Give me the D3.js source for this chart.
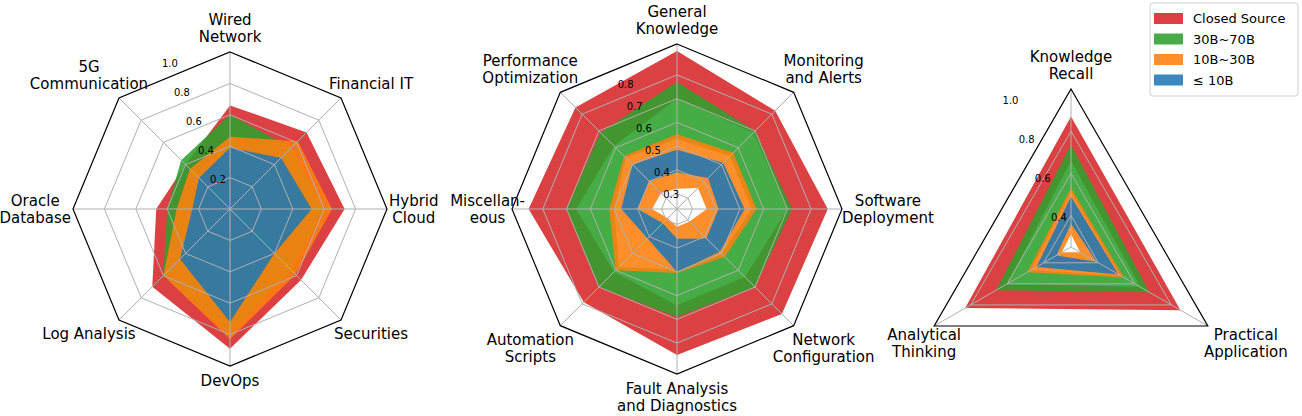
<!DOCTYPE html>
<html><head><meta charset="utf-8">
<script src="https://cdn.jsdelivr.net/npm/d3@7"></script>
<style>body{margin:0;background:#fff}text{font-family:"DejaVu Sans",sans-serif}</style>
</head><body><svg id="c" width="1302" height="416"></svg>
<script>
const groups = ["Closed Source","30B~70B","10B~30B","≤ 10B"];
const colors = ["#d62728","#2ca02c","#ff7f0e","#1f77b4"];

const leftCats = ["Wired\nNetwork","Financial IT","Hybrid\nCloud","Securities","DevOps","Log Analysis","Oracle\nDatabase","5G\nCommunication"];
const leftClosed = [0.66,0.69,0.73,0.64,0.89,0.70,0.47,0.40];
const left30to70 = [0.60,0.55,0.60,0.55,0.80,0.60,0.40,0.44];
const left10to30 = [0.46,0.61,0.65,0.59,0.83,0.60,0.34,0.36];
const leftLe10   = [0.39,0.46,0.52,0.40,0.72,0.45,0.24,0.28];
const leftTicks = [0.2,0.4,0.6,0.8,1.0];

const midCats = ["General\nKnowledge","Monitoring\nand Alerts","Software\nDeployment","Network\nConfiguration","Fault Analysis\nand Diagnostics","Automation\nScripts","Miscellan-\neous","Performance\nOptimization"];
const midClosedMax = [0.90,0.82,0.87,0.86,0.85,0.79,0.86,0.84];
const midClosedMin = [0.70,0.69,0.70,0.64,0.64,0.61,0.66,0.61];
const mid30to70Max = [0.77,0.70,0.72,0.70,0.69,0.70,0.70,0.69];
const mid30to70Min = [0.53,0.55,0.55,0.50,0.49,0.58,0.50,0.54];
const mid10to30Max = [0.55,0.57,0.57,0.52,0.505,0.60,0.52,0.55];
const mid10to30Min = [0.32,0.36,0.36,0.31,0.31,0.29,0.34,0.33];
const midLe10Max   = [0.485,0.51,0.52,0.49,0.50,0.41,0.47,0.50];
const midLe10Min   = [0.39,0.42,0.41,0.41,0.36,0.32,0.40,0.40];
const midTicks = [0.3,0.4,0.5,0.6,0.7,0.8];

const rightCats = ["Knowledge\nRecall","Practical\nApplication","Analytical\nThinking"];
const rightClosedMax = [0.87,0.85,0.83];
const rightClosedMin = [0.66,0.63,0.60];
const right30to70Max = [0.735,0.68,0.66];
const right30to70Min = [0.51,0.52,0.47];
const right10to30Max = [0.53,0.54,0.49];
const right10to30Min = [0.31,0.30,0.30];
const rightLe10Max   = [0.49,0.51,0.44];
const rightLe10Min   = [0.36,0.39,0.33];
const rightTicks = [0.4,0.6,0.8,1.0];

const svg = d3.select("#c");

function radar(cfg){
  const {cx,cy,R,domain,cats,bands,ticks} = cfg;
  const n = cats.length;
  const r = d3.scaleLinear().domain(domain).range([0,R]);
  const ang = i => i*2*Math.PI/n;
  const pt = (i,v) => [cx + r(v)*Math.sin(ang(i)), cy - r(v)*Math.cos(ang(i))];
  const g = svg.append("g");
  const poly = vals => vals.map((v,i)=>pt(i,v));
  const ring = pts => "M"+pts.map(p=>p.join(",")).join("L")+"Z";
  bands.forEach((b,k)=>{
    let d = ring(poly(b.max));
    if (b.min) d += ring(poly(b.min).reverse());
    g.append("path").attr("d",d).attr("fill",colors[k]).attr("fill-opacity",0.88)
      .attr("fill-rule","evenodd").attr("stroke","none");
  });
  const top = domain[1];
  ticks.filter(t=>t<top-1e-9).forEach(t=>{
    g.append("path").attr("d",ring(d3.range(n).map(i=>pt(i,t)))).attr("fill","none")
      .attr("stroke","#b0b0b0").attr("stroke-width",1);
  });
  d3.range(n).forEach(i=>{
    const p=pt(i,top);
    g.append("line").attr("x1",cx).attr("y1",cy).attr("x2",p[0]).attr("y2",p[1])
      .attr("stroke","#b0b0b0").attr("stroke-width",1);
  });
  g.append("path").attr("d",ring(d3.range(n).map(i=>pt(i,top)))).attr("fill","none")
    .attr("stroke","#000").attr("stroke-width",1.2);
  const ta = -22.5*Math.PI/180;
  ticks.forEach(t=>{
    g.append("text").attr("x",cx+r(t)*Math.sin(ta)).attr("y",cy-r(t)*Math.cos(ta))
      .attr("text-anchor","middle").attr("dominant-baseline","middle")
      .attr("font-size",10).attr("fill","#000").text(t.toFixed(1));
  });
  cats.forEach((c,i)=>{
    const a=ang(i), ux=Math.sin(a), uy=-Math.cos(a);
    const v=pt(i,top);
    const lines=c.split("\n");
    const t=g.append("text").attr("font-size",15).attr("text-anchor","middle");
    lines.forEach((l,j)=>t.append("tspan").attr("x",0).attr("dy",j?17:0).text(l));
    const bb=t.node().getBBox();
    const w=bb.width, h=bb.height;
    let dx, dy;
    if (Math.abs(ux)<0.1){ dx=0; dy=Math.sign(uy)*(h/2+6); }
    else if (Math.abs(ux)>0.99){ dx=Math.sign(ux)*(w/2+(cfg.hpad?cfg.hpad[i]:2)); dy=0; }
    else if (n===3){ dx=ux>0?38:-10; dy=17; }
    else { dx=Math.sign(ux)*30; dy=Math.sign(uy)*(h/2+5); }
    const px=v[0]+dx, py=v[1]+dy;
    t.attr("transform",`translate(${px},${py - h/2 - bb.y})`);
  });
}

radar({cx:230,cy:209,R:157,domain:[0,1],cats:leftCats,ticks:leftTicks,
  bands:[{max:leftClosed},{max:left30to70},{max:left10to30},{max:leftLe10}]});
radar({cx:677,cy:209,R:165,domain:[0.235,0.93],cats:midCats,ticks:midTicks,
  hpad:[0,0,0,0,0,0,-13,0],
  bands:[{max:midClosedMax,min:midClosedMin},{max:mid30to70Max,min:mid30to70Min},
         {max:mid10to30Max,min:mid10to30Min},{max:midLe10Max,min:midLe10Min}]});
radar({cx:1071,cy:247,R:158,domain:[0.25,1.0],cats:rightCats,ticks:rightTicks,
  bands:[{max:rightClosedMax,min:rightClosedMin},{max:right30to70Max,min:right30to70Min},
         {max:right10to30Max,min:right10to30Min},{max:rightLe10Max,min:rightLe10Min}]});

const lg = svg.append("g");
lg.append("rect").attr("x",1150).attr("y",3).attr("width",148).attr("height",93).attr("rx",3)
  .attr("fill","#fff").attr("stroke","#d0d0d0");
groups.forEach((gname,k)=>{
  lg.append("rect").attr("x",1154).attr("y",13+k*20.5).attr("width",29).attr("height",11)
    .attr("fill",colors[k]).attr("fill-opacity",0.88);
  lg.append("text").attr("x",1193).attr("y",23+k*20.5).attr("font-size",13).text(gname);
});
</script></body></html>
